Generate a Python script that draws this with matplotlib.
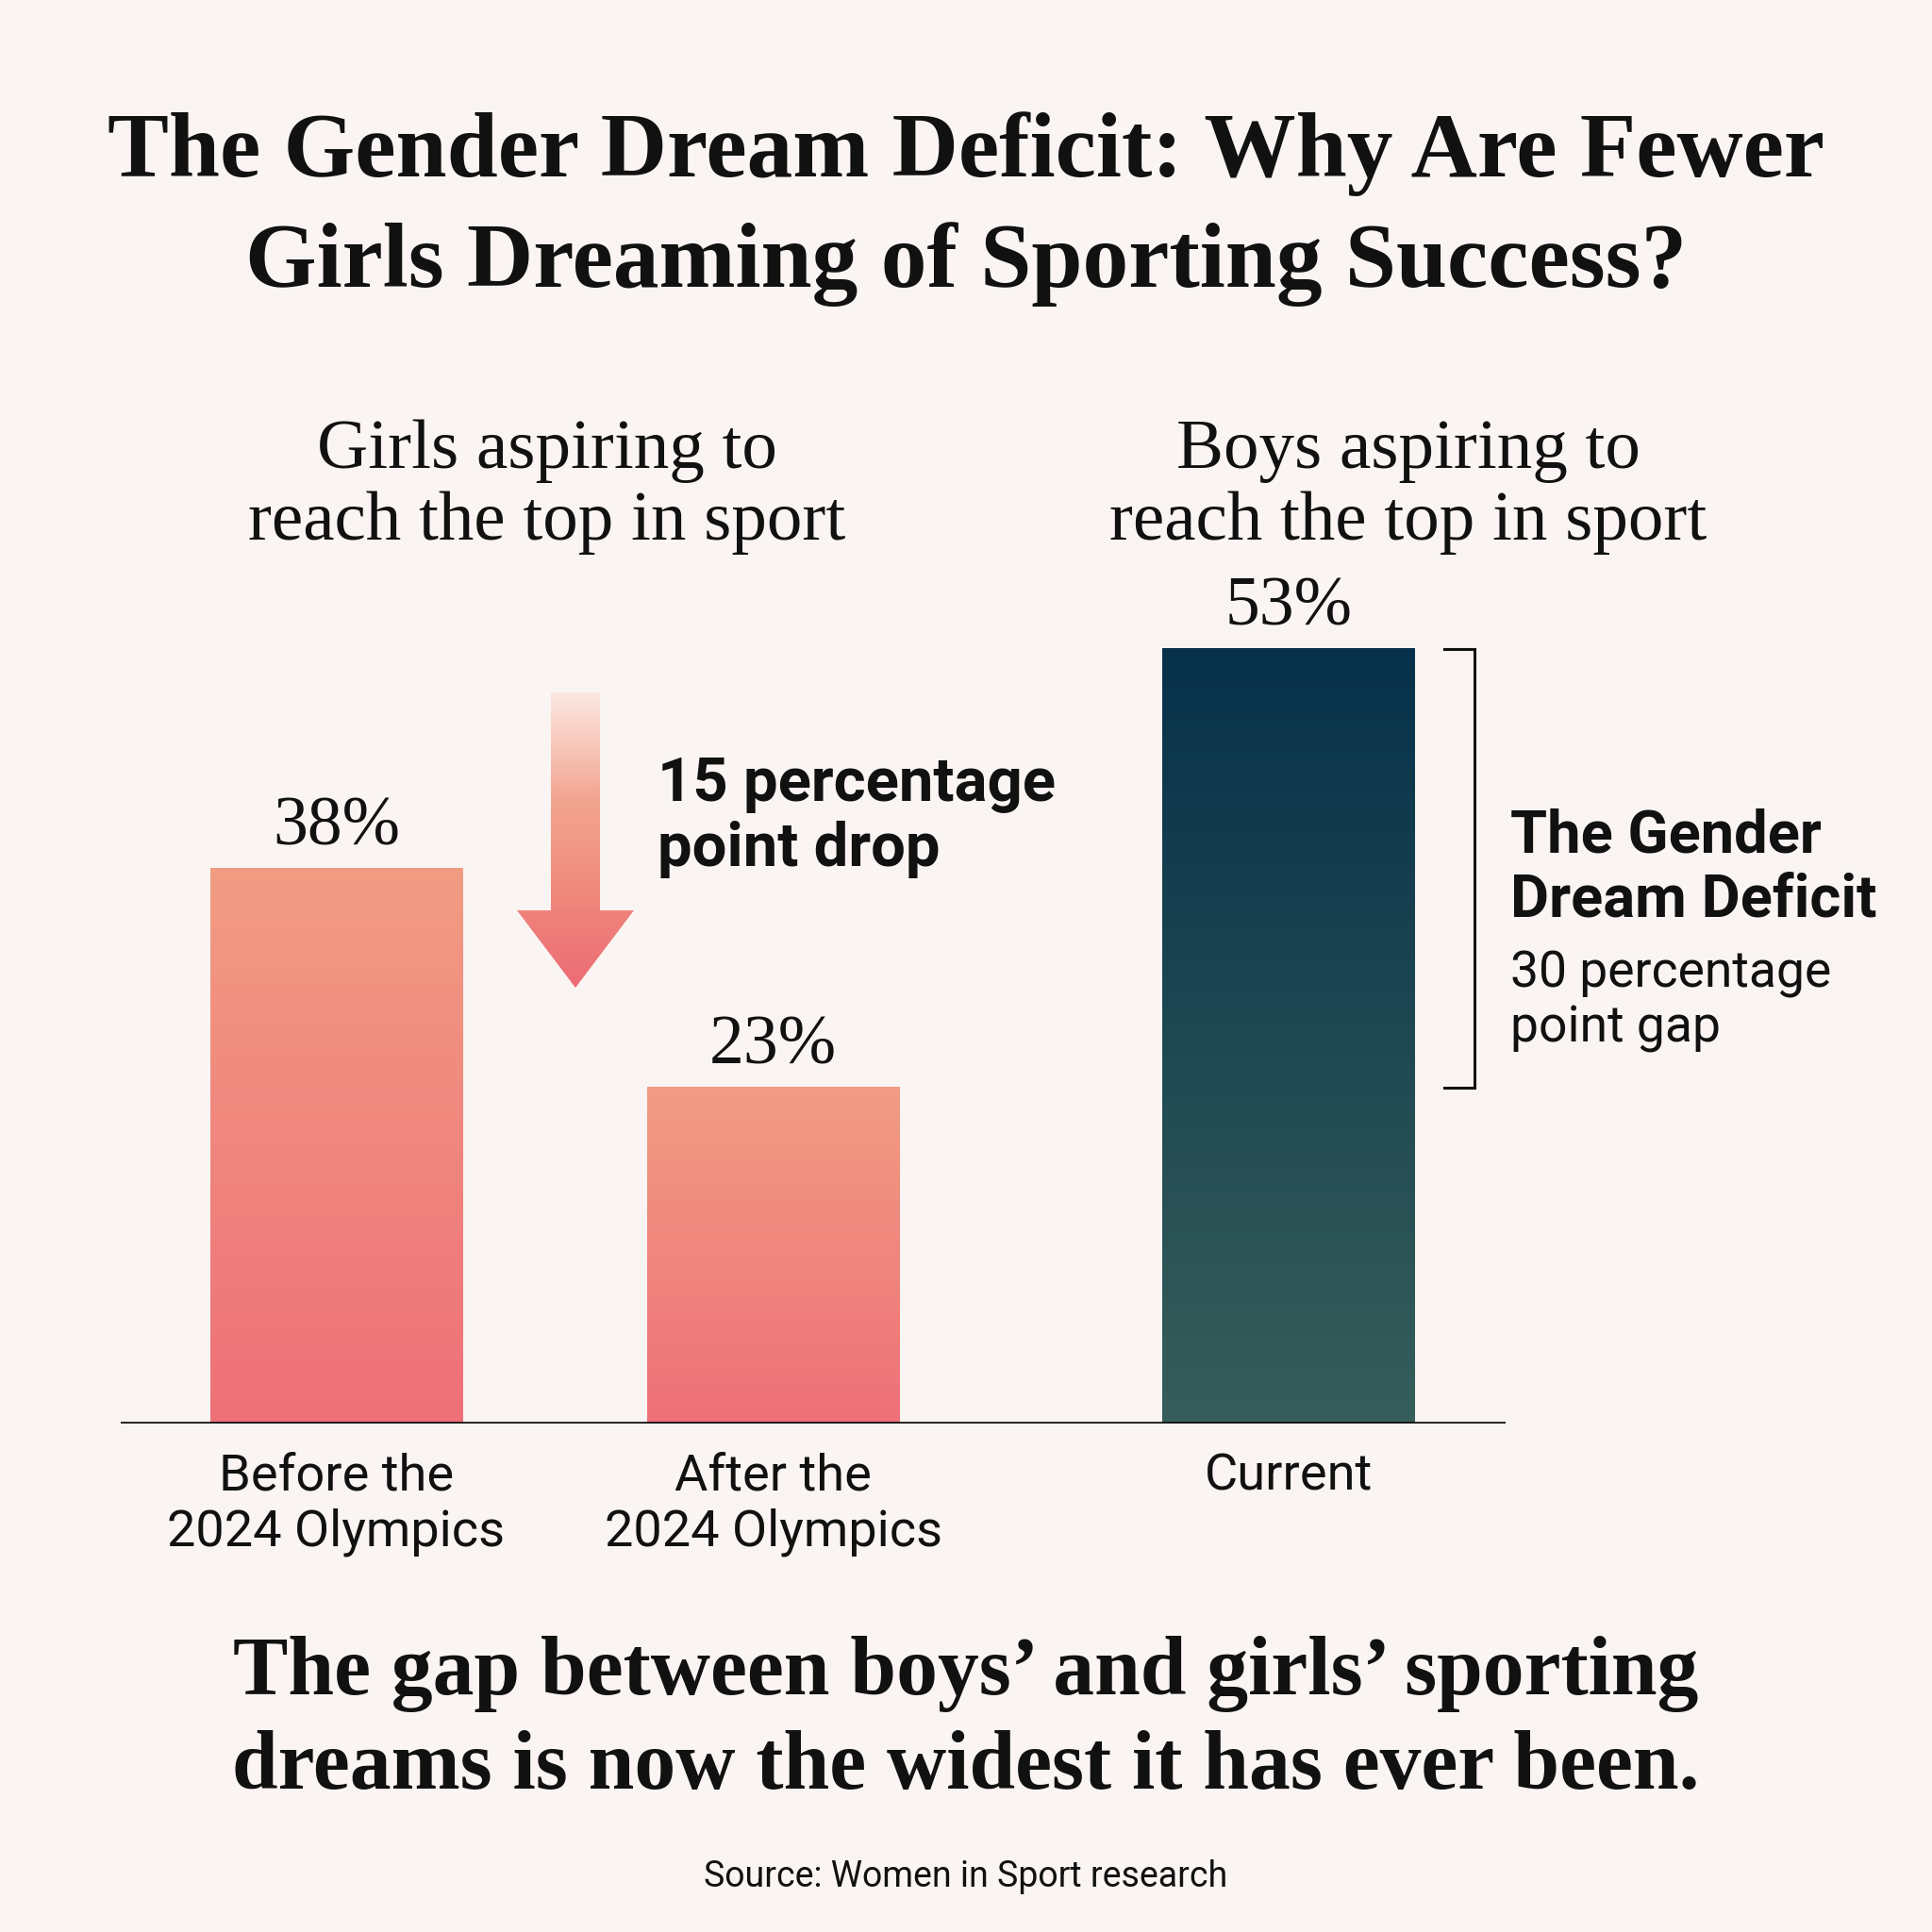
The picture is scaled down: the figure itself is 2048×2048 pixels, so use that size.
import numpy as np
import matplotlib
matplotlib.use("Agg")
import matplotlib.pyplot as plt
from matplotlib.colors import LinearSegmentedColormap
from matplotlib.patches import Polygon

# ---- data ----
categories = ["Before the\n2024 Olympics", "After the\n2024 Olympics", "Current"]
values = [38, 23, 53]
groups = ["Girls aspiring to\nreach the top in sport",
          "Boys aspiring to\nreach the top in sport"]
title_lines = ["The Gender Dream Deficit: Why Are Fewer",
               "Girls Dreaming of Sporting Success?"]
footer_lines = ["The gap between boys\u2019 and girls\u2019 sporting",
                "dreams is now the widest it has ever been."]
source = "Source: Women in Sport research"

drop = values[0] - values[1]
gap = values[2] - values[1]

# ---- style ----
BG = "#FAF5F2"
INK = "#111111"
SERIF = "Liberation Serif"
SANS = "Roboto"
pink = LinearSegmentedColormap.from_list("pink", ["#EE7078", "#F29C84"])
navy = LinearSegmentedColormap.from_list("navy", ["#365E5A", "#07314A"])
arrow_cmap = LinearSegmentedColormap.from_list(
    "arrow", [(0, "#FBE7E2"), (0.35, "#F3A793"), (0.65, "#F08B7C"), (1, "#EC6C75")])
bar_cmaps = [pink, pink, navy]

W = H = 2048
fig = plt.figure(figsize=(20.48, 20.48), dpi=100, facecolor=BG)


def ftext(px, py, s, **kw):
    """Place figure text using pixel coordinates from the top-left."""
    fig.text(px / W, 1 - py / H, s, **kw)


# main chart axes (baseline at y=1509px, from x=128 to 1596px)
px_per_pct = 15.5
ax = fig.add_axes([128 / W, (H - 1509) / H, (1596 - 128) / W, 60 * px_per_pct / H])
ax.set_facecolor("none")
x_pos = [0, 1, 2.18]
width = 0.577

for x, v, cmap in zip(x_pos, values, bar_cmaps):
    grad = np.linspace(1, 0, 256).reshape(-1, 1)
    ax.imshow(grad, extent=[x - width / 2, x + width / 2, 0, v], origin="upper",
              cmap=cmap, vmin=0, vmax=1, aspect="auto", zorder=2,
              interpolation="bicubic")
    ax.annotate(f"{v}%", (x, v), xytext=(0, 18), textcoords="offset points",
                ha="center", va="baseline", fontsize=53, family=SERIF, color=INK)

for x, cat in zip(x_pos, categories):
    for i, line in enumerate(cat.split("\n")):
        ax.annotate(line, (x, 0), xytext=(0, -51 - i * 42.5), textcoords="offset points",
                    ha="center", va="baseline", fontsize=39, family=SANS, color=INK)

ax.axhline(0, color=INK, lw=2.6, zorder=3)

# bracket showing the gap between boys and girls after the Olympics
xb, xt = 2.606, 2.537
ax.plot([xt, xb, xb, xt], [values[2], values[2], values[1], values[1]],
        color=INK, lw=2.2, clip_on=False, solid_joinstyle="miter")

ax.set_xlim(-0.4935, 2.677)
ax.set_ylim(0, 60)
ax.axis("off")

# overlay for the drop arrow
ov = fig.add_axes([0, 0, 1, 1], zorder=-1)
ov.set_xlim(0, W)
ov.set_ylim(H, 0)
ov.axis("off")
arrow_pts = [(584, 734), (636, 734), (636, 965), (672, 965), (610, 1047),
             (548, 965), (584, 965)]
arrow = Polygon(arrow_pts, closed=True, facecolor="none", edgecolor="none")
ov.add_patch(arrow)
ag = np.linspace(0, 1, 256).reshape(-1, 1)
im = ov.imshow(ag, extent=[548, 672, 1047, 734], origin="upper", cmap=arrow_cmap,
               vmin=0, vmax=1, aspect="auto", interpolation="bicubic")
im.set_clip_path(arrow)
ov.set_xlim(0, W)
ov.set_ylim(H, 0)

# ---- texts ----
ftext(1024, 187, title_lines[0], ha="center", va="baseline", fontsize=70,
      family=SERIF, weight="bold", color=INK)
ftext(1024, 304, title_lines[1], ha="center", va="baseline", fontsize=70,
      family=SERIF, weight="bold", color=INK)

for cx, g in zip([580, 1493], groups):
    l1, l2 = g.split("\n")
    ftext(cx, 496, l1, ha="center", va="baseline", fontsize=54, family=SERIF, color=INK)
    ftext(cx, 572, l2, ha="center", va="baseline", fontsize=54, family=SERIF, color=INK)

ftext(697, 849, f"{drop} percentage", ha="left", va="baseline", fontsize=47,
      family=SANS, weight="bold", color=INK)
ftext(697, 918, "point drop", ha="left", va="baseline", fontsize=47,
      family=SANS, weight="bold", color=INK)

ftext(1601, 904, "The Gender", ha="left", va="baseline", fontsize=45.5,
      family=SANS, weight="bold", color=INK)
ftext(1601, 972, "Dream Deficit", ha="left", va="baseline", fontsize=45.5,
      family=SANS, weight="bold", color=INK)
ftext(1601, 1047, f"{gap} percentage", ha="left", va="baseline", fontsize=38.5,
      family=SANS, color=INK)
ftext(1601, 1104, "point gap", ha="left", va="baseline", fontsize=38.5,
      family=SANS, color=INK)

ftext(1024, 1796, footer_lines[0], ha="center", va="baseline", fontsize=63,
      family=SERIF, weight="bold", color=INK)
ftext(1024, 1896, footer_lines[1], ha="center", va="baseline", fontsize=63,
      family=SERIF, weight="bold", color=INK)

ftext(1024, 2000, source, ha="center", va="baseline", fontsize=27, family=SANS, color=INK)

fig.savefig("out.png", dpi=100, facecolor=BG)
